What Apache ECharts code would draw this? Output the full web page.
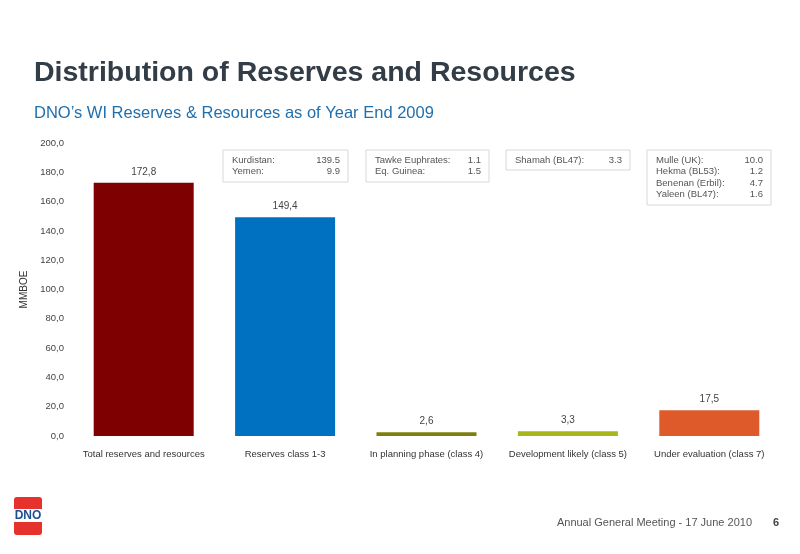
<!DOCTYPE html>
<html>
<head>
<meta charset="utf-8">
<script src="https://cdn.jsdelivr.net/npm/echarts@6/dist/echarts.min.js"></script>
<style>
html,body{margin:0;padding:0;background:#fff;}
#chart{width:800px;height:554px;}
</style>
</head>
<body>
<div id="chart"></div>
<script>
const categories = ['Total reserves and resources','Reserves class 1-3','In planning phase (class 4)','Development likely (class 5)','Under evaluation (class 7)'];
const values = [172.8, 149.4, 2.6, 3.3, 17.5];
const barColors = ['#7f0000', '#0070c0', '#7f7f10', '#a9b61a', '#de5a2a'];
const yTicks = { min: 0, max: 200, interval: 20 };
const box1 = [['Kurdistan:', '139.5'], ['Yemen:', '9.9']];
const box2 = [['Tawke Euphrates:', '1.1'], ['Eq. Guinea:', '1.5']];
const box3 = [['Shamah (BL47):', '3.3']];
const box4 = [['Mulle (UK):', '10.0'], ['Hekma (BL53):', '1.2'], ['Benenan (Erbil):', '4.7'], ['Yaleen (BL47):', '1.6']];

const FONT = '"Liberation Sans", Arial, sans-serif';
const fmt = v => Number(v).toFixed(1).replace('.', ',');

function makeBox(x, y, w, rows) {
  const lh = 11.5;
  const h = rows.length === 1 ? 20 : rows.length * lh + 9;
  const children = [{
    type: 'rect', shape: { x: 0, y: 0, width: w, height: h },
    style: { fill: '#fff', stroke: '#d8d8d8', lineWidth: 1 }
  }];
  rows.forEach((r, i) => {
    children.push({ type: 'text', x: 9, y: 10 + i * lh,
      style: { text: r[0], font: '9.5px ' + FONT, fill: '#555', textAlign: 'left', textVerticalAlign: 'middle' } });
    children.push({ type: 'text', x: w - 8, y: 10 + i * lh,
      style: { text: r[1], font: '9.5px ' + FONT, fill: '#555', textAlign: 'right', textVerticalAlign: 'middle' } });
  });
  return { type: 'group', x: x, y: y, children: children };
}

const chart = echarts.init(document.getElementById('chart'), null, { renderer: 'canvas' });
chart.setOption({
  backgroundColor: '#fff',
  animation: false,
  textStyle: { fontFamily: FONT },
  title: [
    { text: 'Distribution of Reserves and Resources', left: 29, top: 54,
      textStyle: { fontSize: 28.5, fontWeight: 'bold', color: '#333d47', fontFamily: FONT } },
    { text: 'DNO\u2019s WI Reserves & Resources as of Year End 2009', left: 29, top: 100,
      textStyle: { fontSize: 16.5, fontWeight: 'normal', color: '#1f6fad', fontFamily: FONT } }
  ],
  grid: { left: 73, right: 20, top: 143, bottom: 118, containLabel: false },
  xAxis: {
    type: 'category', data: categories,
    axisLine: { show: false }, axisTick: { show: false },
    axisLabel: { color: '#333', fontSize: 9.5, margin: 13, interval: 0, fontFamily: FONT }
  },
  yAxis: {
    type: 'value', min: yTicks.min, max: yTicks.max, interval: yTicks.interval,
    name: 'MMBOE', nameLocation: 'middle', nameGap: 36, nameRotate: 90,
    nameTextStyle: { color: '#333', fontSize: 10, fontFamily: FONT },
    axisLine: { show: false }, axisTick: { show: false }, splitLine: { show: false },
    axisLabel: { color: '#444', fontSize: 9.5, margin: 9, formatter: v => fmt(v), fontFamily: FONT }
  },
  series: [{
    type: 'bar', barWidth: 100,
    data: values.map((v, i) => ({ value: v, itemStyle: { color: barColors[i] } })),
    label: { show: true, position: 'top', distance: 6, color: '#444', fontSize: 10,
      formatter: p => fmt(p.value), fontFamily: FONT }
  }],
  graphic: [
    makeBox(223, 150, 125, box1),
    makeBox(366, 150, 123, box2),
    makeBox(506, 150, 124, box3),
    makeBox(647, 150, 124, box4),
    { type: 'group', x: 14, y: 497, children: [
      { type: 'rect', shape: { x: 0, y: 0, width: 28, height: 38, r: 3 }, style: { fill: '#e5322d' } },
      { type: 'rect', shape: { x: 0, y: 12, width: 28, height: 13 }, style: { fill: '#ffffff' } },
      { type: 'text', x: 14, y: 18.5, style: { text: 'DNO', font: 'bold 12px ' + FONT, fill: '#1d4f91', textAlign: 'center', textVerticalAlign: 'middle' } }
    ]},
    { type: 'text', x: 752, y: 523, style: { text: 'Annual General Meeting - 17 June 2010', font: '11px ' + FONT, fill: '#555', textAlign: 'right', textVerticalAlign: 'middle' } },
    { type: 'text', x: 776, y: 523, style: { text: '6', font: 'bold 11px ' + FONT, fill: '#444', textAlign: 'center', textVerticalAlign: 'middle' } }
  ]
});
</script>
</body>
</html>
